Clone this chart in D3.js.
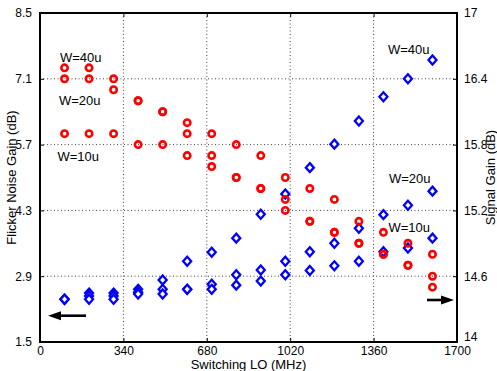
<!DOCTYPE html>
<html>
<head>
<meta charset="utf-8">
<script src="https://cdn.jsdelivr.net/npm/d3@7"></script>
<style>
  html, body { margin: 0; padding: 0; background: #fff; }
  svg { display: block; font-family: "Liberation Sans", Arial, Helvetica, sans-serif; }
</style>
</head>
<body>
<svg id="chart" width="497" height="371"></svg>
<script>
// ---- data ----
const freqs = [100, 200, 300, 400, 500, 600, 700, 800, 900, 1000, 1100, 1200, 1300, 1400, 1500, 1600];

// Flicker noise gain (dB), left axis, blue diamonds
const flickerW40 = [2.41, 2.54, 2.54, 2.62, 2.82, 3.22, 3.41, 3.71, 4.22, 4.65, 5.21, 5.71, 6.20, 6.72, 7.10, 7.50];
const flickerW20 = [2.41, 2.48, 2.48, 2.56, 2.62, 2.62, 2.73, 2.93, 3.03, 3.22, 3.42, 3.60, 3.92, 4.21, 4.41, 4.71];
const flickerW10 = [2.41, 2.41, 2.41, 2.52, 2.52, 2.62, 2.62, 2.71, 2.80, 2.93, 3.02, 3.12, 3.22, 3.42, 3.50, 3.71];

// Signal gain (dB), right axis, red circles
const signalW40 = [16.5, 16.5, 16.4, 16.2, 16.1, 16.0, 15.9, 15.8, 15.7, 15.5, 15.4, 15.3, 15.1, 15.0, 14.9, 14.8];
const signalW20 = [16.4, 16.4, 16.3, 16.2, 16.1, 15.9, 15.7, 15.5, 15.4, 15.3, 15.1, 15.0, 14.9, 14.8, 14.7, 14.6];
const signalW10 = [15.9, 15.9, 15.9, 15.8, 15.8, 15.7, 15.6, 15.5, 15.4, 15.2, 15.1, 15.0, 14.9, 14.8, 14.7, 14.5];

const xTicks = [0, 340, 680, 1020, 1360, 1700];
const yLeftTicks = [1.5, 2.9, 4.3, 5.7, 7.1, 8.5];
const yRightTicks = [14, 14.6, 15.2, 15.8, 16.4, 17];

const xLabel = "Switching LO (MHz)";
const yLeftLabel = "Flicker Noise Gain (dB)";
const yRightLabel = "Signal Gain (dB)";

// ---- layout ----
const L = 40, R = 457, T = 13, B = 342;
const svg = d3.select("#chart");

const x = d3.scaleLinear().domain([0, 1700]).range([L, R]);
const yL = d3.scaleLinear().domain([1.5, 8.5]).range([B, T]);
const yR = d3.scaleLinear().domain([14, 17]).range([B, T]);

// grid (dotted)
const grid = svg.append("g");
xTicks.slice(1, -1).forEach(v => {
  grid.append("line").attr("x1", x(v)).attr("x2", x(v)).attr("y1", T).attr("y2", B)
    .attr("stroke", "#444").attr("stroke-width", 1).attr("stroke-dasharray", "1,2.5");
});
yLeftTicks.slice(1, -1).forEach(v => {
  grid.append("line").attr("x1", L).attr("x2", R).attr("y1", yL(v)).attr("y2", yL(v))
    .attr("stroke", "#444").attr("stroke-width", 1).attr("stroke-dasharray", "1,2.5");
});

// axes with inward ticks
const fs = "12px";
const axB = svg.append("g").attr("transform", `translate(0,${B})`)
  .call(d3.axisBottom(x).tickValues(xTicks).tickSize(-4).tickPadding(4).tickFormat(d3.format("d")));
const axT = svg.append("g").attr("transform", `translate(0,${T})`)
  .call(d3.axisTop(x).tickValues(xTicks).tickSize(-4).tickFormat(""));
const axL = svg.append("g").attr("transform", `translate(${L},0)`)
  .call(d3.axisLeft(yL).tickValues(yLeftTicks).tickSize(-4).tickPadding(8).tickFormat(d => d.toFixed(1)));
const axR = svg.append("g").attr("transform", `translate(${R},0)`)
  .call(d3.axisRight(yR).tickValues(yRightTicks).tickSize(-4).tickPadding(7).tickFormat(d => d3.format("~g")(d)));

[axB, axT, axL, axR].forEach(a => {
  a.select(".domain").remove();
  a.selectAll(".tick line").attr("stroke", "#000").attr("stroke-width", 1);
  a.selectAll("text").attr("font-size", fs).attr("fill", "#000")
    .style("font-family", "'Liberation Sans', Arial, sans-serif");
});
// lift the bottom-most right label so it clears "1700"
axR.selectAll(".tick text").filter(d => d === 14).attr("dy", "-0.12em");

// frame
svg.append("rect").attr("x", L).attr("y", T).attr("width", R - L).attr("height", B - T)
  .attr("fill", "none").attr("stroke", "#000").attr("stroke-width", 2);

// markers
const diamond = (cx, cy) => `M${cx},${cy - 4.5}L${cx + 4},${cy}L${cx},${cy + 4.5}L${cx - 4},${cy}Z`;
const blueSeries = [flickerW40, flickerW20, flickerW10];
const redSeries = [signalW40, signalW20, signalW10];

const gBlue = svg.append("g");
blueSeries.forEach(s => {
  gBlue.selectAll(null).data(s).enter().append("path")
    .attr("d", (d, i) => diamond(x(freqs[i]), yL(d)))
    .attr("fill", "#fff").attr("stroke", "#0000ff").attr("stroke-width", 2.3);
});
const gRed = svg.append("g");
redSeries.forEach(s => {
  gRed.selectAll(null).data(s).enter().append("circle")
    .attr("cx", (d, i) => x(freqs[i])).attr("cy", d => yR(d)).attr("r", 3.2)
    .attr("fill", "none").attr("stroke", "#ff0000").attr("stroke-width", 2.6);
});

// annotations
const ann = svg.append("g").attr("font-size", "13px").attr("fill", "#000");
[["W=40u", 60, 61.5], ["W=20u", 59, 104.5], ["W=10u", 57.5, 160.5],
 ["W=40u", 388, 53.5], ["W=20u", 389, 182.5], ["W=10u", 388.5, 231.5]].forEach(([t, tx, ty]) => {
  ann.append("text").attr("x", tx).attr("y", ty).text(t);
});

// arrows
const arrow = (x1, x2, y, dir) => {
  const g = svg.append("g");
  g.append("line").attr("x1", x1).attr("x2", x2 - dir * 8).attr("y1", y).attr("y2", y)
    .attr("stroke", "#000").attr("stroke-width", 2.6);
  g.append("path").attr("d", `M${x2},${y}L${x2 - dir * 13},${y - 4.5}L${x2 - dir * 13},${y + 4.5}Z`)
    .attr("fill", "#000");
};
arrow(86, 48, 315.7, -1);
arrow(427, 454, 300, 1);

// axis labels
svg.append("text").attr("x", (L + R) / 2).attr("y", 369).attr("text-anchor", "middle")
  .attr("font-size", "13px").text(xLabel);
svg.append("text").attr("transform", `translate(16,${(T + B) / 2}) rotate(-90)`)
  .attr("text-anchor", "middle").attr("font-size", "13px").text(yLeftLabel);
svg.append("text").attr("transform", `translate(495,${(T + B) / 2}) rotate(-90)`)
  .attr("text-anchor", "middle").attr("font-size", "13px").text(yRightLabel);
</script>
</body>
</html>
